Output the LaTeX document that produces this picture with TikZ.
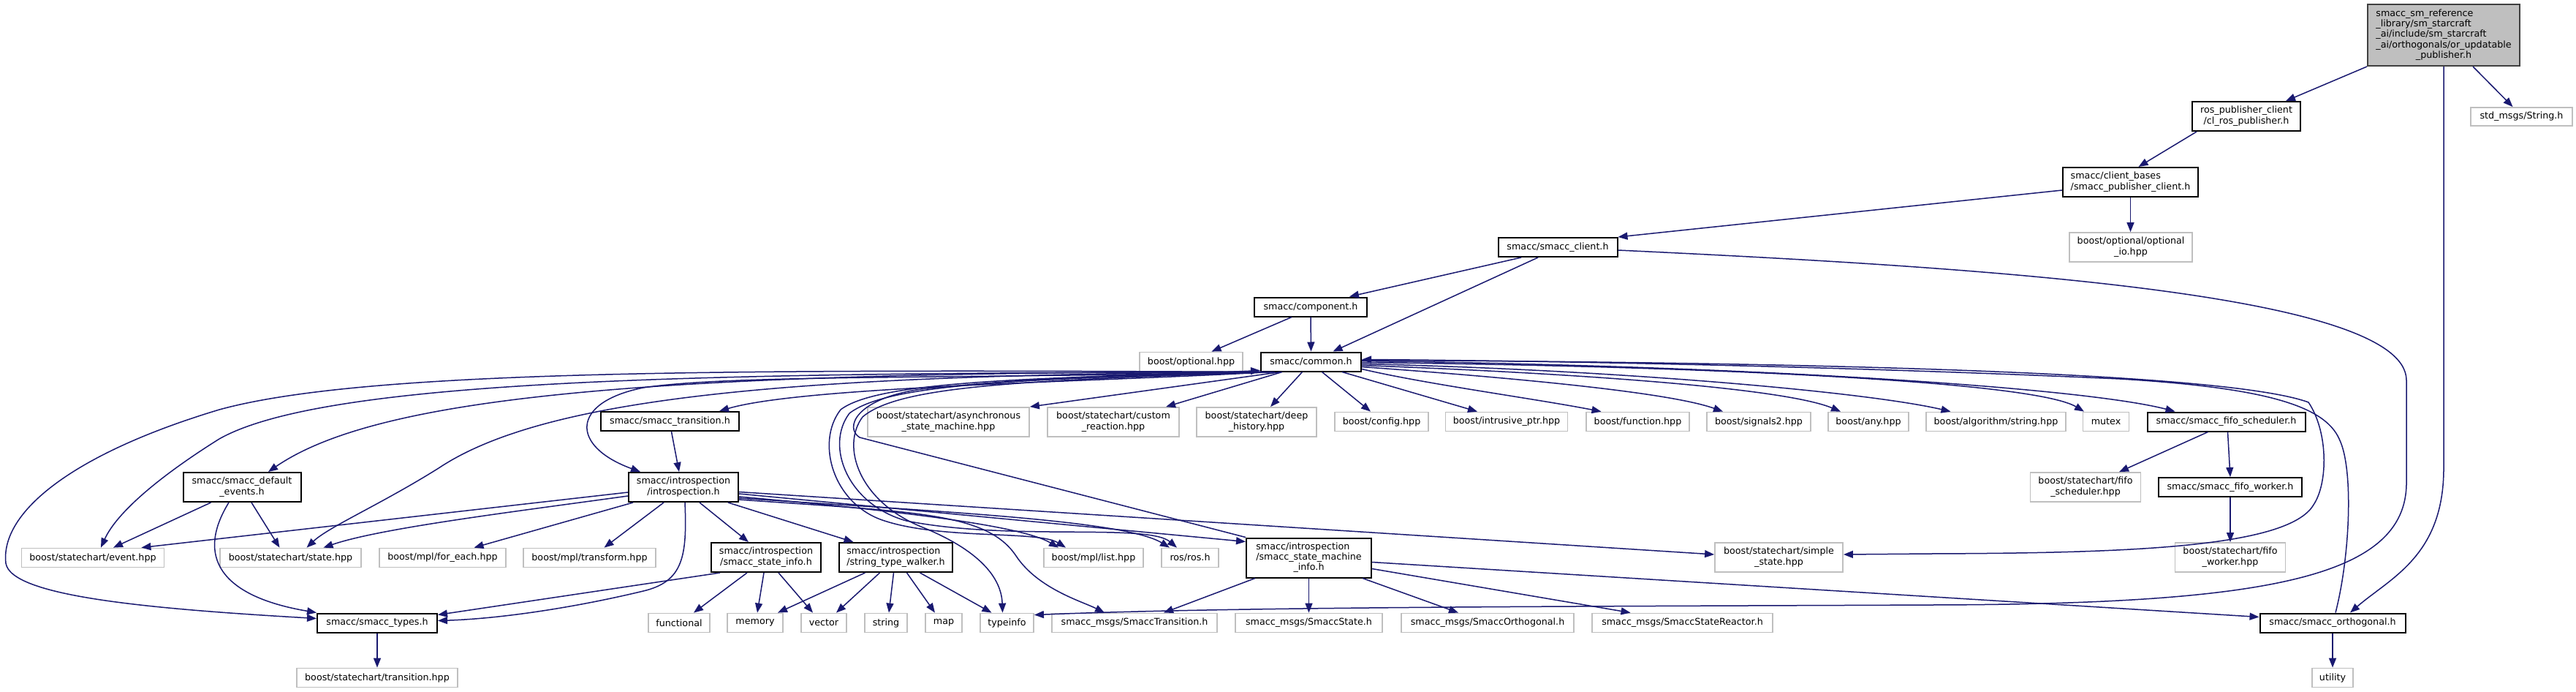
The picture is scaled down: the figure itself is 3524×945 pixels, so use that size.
\documentclass[tikz,border=0pt]{standalone}
\usepackage{fontspec}
\setmainfont{DejaVu Sans}
\usetikzlibrary{arrows.meta,calc}
\definecolor{edgec}{HTML}{191970}
\definecolor{gboxc}{HTML}{BFBFBF}
\definecolor{mainf}{HTML}{BFBFBF}
\definecolor{mainb}{HTML}{404040}
\newcommand\lbl[2]{\begin{tabular}{@{}l@{}}#1\\\multicolumn{1}{@{}c@{}}{#2}\end{tabular}}
\newcommand\nfont{\fontsize{12.7}{14.3}\selectfont}
\begin{document}
\begin{tikzpicture}[x=1pt,y=-1pt,
  nbox/.style={rectangle,inner sep=0pt,font=\nfont,text=black},
  gbox/.style={nbox,draw=gboxc,line width=1.8pt},
  bbox/.style={nbox,draw=black,line width=2pt},
  mbox/.style={nbox,draw=mainb,fill=mainf,line width=2pt},
  edg/.style={draw=edgec,line width=1.5pt,-{Triangle[length=13pt,width=10pt]}},
]
\fill[white] (0,0) rectangle (3524,945);
\useasboundingbox (0,0) rectangle (3524,945);

% ---------- nodes ----------
\node[mbox,minimum width=208pt,minimum height=84pt] (main) at (3343,48) {\lbl{smacc\_sm\_reference\\\_library/sm\_starcraft\\\_ai/include/sm\_starcraft\\\_ai/orthogonals/or\_updatable}{\_publisher.h}};
\node[bbox,minimum width=148pt,minimum height=40pt] (clros) at (3073,159) {\lbl{ros\_publisher\_client}{/cl\_ros\_publisher.h}};
\node[gbox,minimum width=139pt,minimum height=25pt] (stdstr) at (3449.5,159.5) {std\_msgs/String.h};
\node[bbox,minimum width=185pt,minimum height=40pt] (pubcl) at (2914.5,249) {\lbl{smacc/client\_bases}{/smacc\_publisher\_client.h}};
\node[gbox,minimum width=168pt,minimum height=40pt] (optio) at (2915,338) {\lbl{boost/optional/optional}{\_io.hpp}};
\node[bbox,minimum width=163pt,minimum height=26pt] (client) at (2131,338) {smacc/smacc\_client.h};
\node[bbox,minimum width=154pt,minimum height=26pt] (comp) at (1793,419.5) {smacc/component.h};
\node[gbox,minimum width=141pt,minimum height=26pt] (bopt) at (1629.5,494.5) {boost/optional.hpp};
\node[bbox,minimum width=137pt,minimum height=26pt] (common) at (1793.5,494.5) {smacc/common.h};
\node[bbox,minimum width=189pt,minimum height=26pt] (trans) at (916.5,576) {smacc/smacc\_transition.h};
\node[gbox,minimum width=221pt,minimum height=40pt] (async) at (1297.5,577) {\lbl{boost/statechart/asynchronous}{\_state\_machine.hpp}};
\node[gbox,minimum width=180pt,minimum height=40pt] (custom) at (1523,577) {\lbl{boost/statechart/custom}{\_reaction.hpp}};
\node[gbox,minimum width=164pt,minimum height=40pt] (deep) at (1719,577) {\lbl{boost/statechart/deep}{\_history.hpp}};
\node[gbox,minimum width=128pt,minimum height=26pt] (config) at (1890,576.5) {boost/config.hpp};
\node[gbox,minimum width=167pt,minimum height=26pt] (intr) at (2061,576.5) {boost/intrusive\_ptr.hpp};
\node[gbox,minimum width=141pt,minimum height=26pt] (func) at (2240.5,576.5) {boost/function.hpp};
\node[gbox,minimum width=142pt,minimum height=26pt] (sig) at (2406,576.5) {boost/signals2.hpp};
\node[gbox,minimum width=110pt,minimum height=26pt] (any) at (2556,576.5) {boost/any.hpp};
\node[gbox,minimum width=191pt,minimum height=26pt] (algo) at (2730.5,576.5) {boost/algorithm/string.hpp};
\node[gbox,minimum width=63pt,minimum height=26pt] (mutex) at (2881,576.5) {mutex};
\node[bbox,minimum width=216pt,minimum height=26pt] (fifos) at (3045.5,576.5) {smacc/smacc\_fifo\_scheduler.h};
\node[gbox,minimum width=151pt,minimum height=40pt] (fifosh) at (2853,666) {\lbl{boost/statechart/fifo}{\_scheduler.hpp}};
\node[bbox,minimum width=196pt,minimum height=26pt] (fifow) at (3051,666) {smacc/smacc\_fifo\_worker.h};
\node[gbox,minimum width=151pt,minimum height=40pt] (fifowh) at (3051,762) {\lbl{boost/statechart/fifo}{\_worker.hpp}};
\node[bbox,minimum width=161pt,minimum height=40pt] (events) at (331,666) {\lbl{smacc/smacc\_default}{\_events.h}};
\node[bbox,minimum width=150pt,minimum height=40pt] (intro) at (935,666) {\lbl{smacc/introspection}{/introspection.h}};
\node[gbox,minimum width=195pt,minimum height=26pt] (event) at (127,762.5) {boost/statechart/event.hpp};
\node[gbox,minimum width=193pt,minimum height=26pt] (state) at (397.5,762.5) {boost/statechart/state.hpp};
\node[gbox,minimum width=173pt,minimum height=26pt] (foreach) at (605.5,762.5) {boost/mpl/for\_each.hpp};
\node[gbox,minimum width=181pt,minimum height=26pt] (transform) at (806.5,762.5) {boost/mpl/transform.hpp};
\node[bbox,minimum width=150pt,minimum height=40pt] (sinfo) at (1048,762) {\lbl{smacc/introspection}{/smacc\_state\_info.h}};
\node[bbox,minimum width=155pt,minimum height=40pt] (stw) at (1225.5,762) {\lbl{smacc/introspection}{/string\_type\_walker.h}};
\node[gbox,minimum width=136pt,minimum height=26pt] (mpllist) at (1496,762.5) {boost/mpl/list.hpp};
\node[gbox,minimum width=78pt,minimum height=26pt] (ros) at (1628,762.5) {ros/ros.h};
\node[bbox,minimum width=171pt,minimum height=54pt] (smi) at (1790.5,762.5) {\lbl{smacc/introspection\\/smacc\_state\_machine}{\_info.h}};
\node[gbox,minimum width=175pt,minimum height=40pt] (simple) at (2433.5,762) {\lbl{boost/statechart/simple}{\_state.hpp}};
\node[bbox,minimum width=164pt,minimum height=26pt] (types) at (516,851.5) {smacc/smacc\_types.h};
\node[gbox,minimum width=84pt,minimum height=26pt] (functional) at (929,851.5) {functional};
\node[gbox,minimum width=76pt,minimum height=26pt] (memory) at (1033,851.5) {memory};
\node[gbox,minimum width=62pt,minimum height=26pt] (vector) at (1127,851.5) {vector};
\node[gbox,minimum width=58pt,minimum height=26pt] (string) at (1212,851.5) {string};
\node[gbox,minimum width=50pt,minimum height=26pt] (map) at (1291,851.5) {map};
\node[gbox,minimum width=73pt,minimum height=26pt] (typeinfo) at (1377.5,851.5) {typeinfo};
\node[gbox,minimum width=226pt,minimum height=26pt] (strans) at (1552,851.5) {smacc\_msgs/SmaccTransition.h};
\node[gbox,minimum width=201pt,minimum height=26pt] (sstate) at (1790.5,851.5) {smacc\_msgs/SmaccState.h};
\node[gbox,minimum width=236pt,minimum height=26pt] (sorth) at (2035,851.5) {smacc\_msgs/SmaccOrthogonal.h};
\node[gbox,minimum width=247pt,minimum height=26pt] (sreact) at (2301.5,851.5) {smacc\_msgs/SmaccStateReactor.h};
\node[bbox,minimum width=199pt,minimum height=26pt] (orth) at (3191,851.5) {smacc/smacc\_orthogonal.h};
\node[gbox,minimum width=56pt,minimum height=26pt] (utility) at (3191,926.5) {utility};
\node[gbox,minimum width=220pt,minimum height=26pt] (transhpp) at (516,926.5) {boost/statechart/transition.hpp};

% ---------- edges ----------
\draw[edg] (main.south west) -- ($(clros.north)+(54,0)$);
\draw[edg] ($(main.south)+(40,0)$) -- ($(stdstr.north)+(-12,0)$);
\draw[edg] (main.south) -- (3343,640) .. controls (3343,760) and (3270,790) .. ($(orth.north)+(24,0)$);
\draw[edg] ($(clros.south)+(-68,0)$) -- ($(pubcl.north)+(11,0)$);
\draw[edg] ($(pubcl.west)+(0,11)$) -- (client.north east);
\draw[edg] (pubcl.south) -- (pubcl.south |- optio.north);
\draw[edg] ($(client.south)+(-50,0)$) -- ($(comp.north)+(53,0)$);
\draw[edg] ($(client.south)+(-27,0)$) -- ($(common.north)+(30,0)$);
\draw[edg] ($(client.east)+(0,4)$) .. controls (2700,365) and (3292,400) .. (3292,520) -- (3292,660) .. controls (3292,790) and (3100,826) .. (2640,827) .. controls (2200,829) and (1700,829) .. ($(typeinfo.north east)+(0,3)$);
\draw[edg] ($(comp.south)+(-26,0)$) -- ($(bopt.north)+(28,0)$);
\draw[edg] (comp.south) -- (common.north);

% common, right side
\draw[edg] ($(common.south)+(15,0)$) -- ($(config.north)+(-15,0)$);
\draw[edg] ($(common.south east)+(-27,0)$) -- ($(intr.north)+(-40,0)$);
\draw[edg] ($(common.east)+(0,10)$) .. controls (1950,525) and (2100,545) .. ($(func.north)+(-50,0)$);
\draw[edg] ($(common.east)+(0,7)$) .. controls (2050,515) and (2280,535) .. ($(sig.north)+(-49,0)$);
\draw[edg] ($(common.east)+(0,5)$) .. controls (2150,510) and (2440,530) .. ($(any.north)+(-38,0)$);
\draw[edg] ($(common.east)+(0,3)$) .. controls (2200,505) and (2550,535) .. ($(algo.north)+(-62,0)$);
\draw[edg] ($(common.east)+(0,1)$) .. controls (2300,500) and (2780,520) .. ($(mutex.north)+(-30,0)$);
\draw[edg] ($(common.east)+(0,-1)$) .. controls (2400,500) and (2850,530) .. ($(fifos.north)+(-70,0)$);
\draw[edg] ($(common.east)+(0,-2)$) .. controls (2500,495) and (3050,510) .. (3158,550) .. controls (3185,590) and (3185,660) .. (3165,690) .. controls (3130,750) and (2900,756) .. (2640,757) -- ($(simple.east)+(0,-4)$);
\draw[edg] ($(orth.north)+(4,0)$) .. controls (3215,760) and (3220,640) .. (3200,600) .. controls (3180,555) and (3100,530) .. (2900,518) .. controls (2500,500) and (2100,493) .. ($(common.east)+(0,-3)$);

% common, bottom left
\draw[edg] ($(common.south west)+(28,0)$) -- (async.north east);
\draw[edg] ($(common.south west)+(30,0)$) -- ($(custom.north)+(72,0)$);
\draw[edg] ($(common.south)+(-12,0)$) -- ($(deep.north)+(19,0)$);

% common, left bundle (leaves below boost/optional.hpp)
\draw[edg] ($(common.south west)+(14,0)$) .. controls (1500,522) and (1100,528) .. ($(trans.north east)+(-28,0)$);
\draw[edg] ($(common.south west)+(12,0)$) .. controls (1300,518) and (1000,512) .. (880,530) .. controls (780,550) and (780,610) .. ($(intro.north west)+(17,0)$);
\draw[edg] ($(common.south west)+(8,0)$) .. controls (900,508) and (520,540) .. ($(events.north)+(36,0)$);
\draw[edg] ($(common.south west)+(6,0)$) .. controls (1000,510) and (450,515) .. (300,600) .. controls (220,650) and (160,700) .. ($(event.north)+(11,0)$);
\draw[edg] ($(common.south west)+(4,0)$) .. controls (1000,505) and (500,505) .. (300,560) .. controls (100,620) and (0,700) .. (8,770) .. controls (15,815) and (200,832) .. ($(types.west)+(0,-6)$);
\draw[edg] ($(common.south west)+(10,0)$) .. controls (1100,512) and (750,540) .. (600,640) .. controls (520,690) and (450,720) .. ($(state.north)+(22,0)$);

% common, loops
\draw[edg] ($(common.south west)+(16,0)$) .. controls (1400,516) and (1200,522) .. (1150,560) .. controls (1115,605) and (1140,690) .. (1210,712) .. controls (1290,738) and (1420,725) .. ($(mpllist.north)+(-38,0)$);
\draw[edg] ($(common.south west)+(18,0)$) .. controls (1400,518) and (1215,524) .. (1162,565) .. controls (1128,610) and (1160,690) .. (1240,712) .. controls (1380,740) and (1570,715) .. ($(ros.north)+(-18,0)$);
\draw[edg] ($(common.south west)+(20,0)$) .. controls (1400,520) and (1230,527) .. (1180,570) .. controls (1150,610) and (1175,685) .. (1260,720) .. controls (1340,752) and (1370,790) .. ($(typeinfo.north)+(-6,0)$);
\draw[edg] (smi.north west) -- (1176,598) .. controls (1155,585) and (1170,545) .. (1260,532) .. controls (1450,512) and (1650,510) .. ($(common.south west)+(0,-2)$);

% transition -> introspection
\draw[edg] ($(trans.south)+(2,0)$) -- ($(intro.north)+(-6,0)$);

% introspection
\draw[edg] ($(intro.west)+(0,7)$) -- ($(event.north east)+(-32,0)$);
\draw[edg] ($(intro.west)+(0,12)$) .. controls (700,700) and (520,722) .. ($(state.north)+(45,0)$);
\draw[edg] ($(intro.south west)+(7,0)$) -- ($(foreach.north)+(43,0)$);
\draw[edg] ($(intro.south west)+(49,0)$) -- ($(transform.north)+(20,0)$);
\draw[edg] ($(intro.south)+(2,0)$) .. controls (940,760) and (935,795) .. (880,808) .. controls (780,832) and (680,846) .. ($(types.east)+(0,-3)$);
\draw[edg] ($(intro.south)+(22,0)$) -- ($(sinfo.north)+(-24,0)$);
\draw[edg] ($(intro.south east)+(-15,0)$) -- ($(stw.north)+(-58,0)$);
\draw[edg] ($(intro.east)+(0,6.5)$) -- ($(simple.west)+(0,-4)$);
\draw[edg] ($(intro.east)+(0,9)$) -- ($(smi.west)+(0,-22)$);
\draw[edg] ($(intro.east)+(0,13)$) .. controls (1250,700) and (1400,720) .. ($(mpllist.north)+(-48,0)$);
\draw[edg] ($(intro.east)+(0,15)$) .. controls (1300,700) and (1540,712) .. ($(ros.north)+(-28,0)$);
\draw[edg] ($(intro.east)+(0,17)$) .. controls (1250,700) and (1350,700) .. (1390,760) .. controls (1420,805) and (1480,822) .. ($(strans.north)+(-41,0)$);

% default events
\draw[edg] ($(events.south west)+(39,0)$) -- ($(event.north)+(28,0)$);
\draw[edg] ($(events.south)+(13,0)$) -- ($(state.north)+(-15,0)$);
\draw[edg] ($(events.south)+(-18,0)$) .. controls (268,760) and (300,815) .. (types.north west);

% state info / string type walker
\draw[edg] ($(sinfo.south west)+(13,0)$) -- ($(types.north east)+(0,3)$);
\draw[edg] ($(sinfo.south)+(-26,0)$) -- ($(functional.north)+(20,0)$);
\draw[edg] ($(sinfo.south)+(-3,0)$) -- ($(memory.north)+(3,0)$);
\draw[edg] ($(sinfo.south)+(17,0)$) -- ($(vector.north)+(-15,0)$);
\draw[edg] ($(stw.south)+(-42,0)$) -- ($(memory.north)+(31,0)$);
\draw[edg] ($(stw.south)+(-22,0)$) -- ($(vector.north)+(17,0)$);
\draw[edg] ($(stw.south)+(-3,0)$) -- ($(string.north)+(4,0)$);
\draw[edg] ($(stw.south)+(15,0)$) -- ($(map.north)+(-12,0)$);
\draw[edg] ($(stw.south)+(33,0)$) -- ($(typeinfo.north)+(-21,0)$);

% state machine info
\draw[edg] ($(smi.south west)+(13,0)$) -- ($(strans.north)+(40,0)$);
\draw[edg] (smi.south) -- (sstate.north);
\draw[edg] ($(smi.south east)+(-13,0)$) -- ($(sorth.north)+(-40,0)$);
\draw[edg] ($(smi.east)+(0,15)$) -- ($(sreact.north)+(-71,0)$);
\draw[edg] ($(smi.east)+(0,6)$) -- ($(orth.west)+(0,-8)$);

% fifo
\draw[edg] ($(fifos.south)+(-25,0)$) -- ($(fifosh.north)+(46,0)$);
\draw[edg] ($(fifos.south)+(2,0)$) -- (fifow.north);
\draw[edg] (fifow.south) -- (fifowh.north);

% verticals
\draw[edg] (orth.south) -- (utility.north);
\draw[edg] (types.south) -- (transhpp.north);
\end{tikzpicture}
\end{document}
